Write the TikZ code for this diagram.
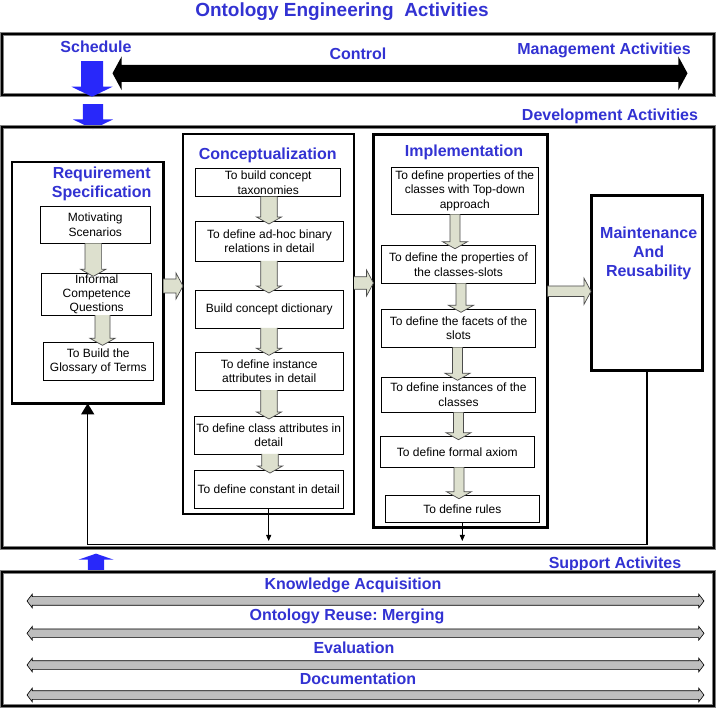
\documentclass[tikz,border=0pt]{standalone}
\usepackage{fontspec}
\setmainfont{Liberation Sans}
\usetikzlibrary{shapes.arrows,arrows.meta,calc}
\definecolor{headblue}{RGB}{50,50,210}
\definecolor{schedblue}{RGB}{40,40,250}
\definecolor{flowgray}{RGB}{221,224,206}
\definecolor{bargray}{RGB}{190,190,190}
\frenchspacing

% fat arrow from the bottom of #1 into the top of #2, at x=#3, shaft half width #4
\newcommand\downflow[4]{%
  \draw[flow] let \p1=(#1.south), \p2=(#2.north), \p3=(#3,0) in
    (\x3-#4pt,\y1) -- (\x3-#4pt,\y2+4pt) -- (\x3-12.5pt,\y2+4pt)
    -- (\x3,\y2-3pt) -- (\x3+12.5pt,\y2+4pt) -- (\x3+#4pt,\y2+4pt)
    -- (\x3+#4pt,\y1);}
% fat arrow from the right side of #1 to the left side of #2, at y=#3
\newcommand\rightflow[4]{%
  \draw[flow] let \p1=(#1.east), \p2=(#2.west), \p3=(0,#3) in
    (\x1,\y3+#4pt) -- (\x2-7pt,\y3+#4pt) -- (\x2-7pt,\y3+13pt)
    -- (\x2,\y3) -- (\x2-7pt,\y3-13pt) -- (\x2-7pt,\y3-#4pt)
    -- (\x1,\y3-#4pt);}

\begin{document}
\begin{tikzpicture}[x=1pt, y=-1pt,
    every node/.style={font=\fontsize{12}{14.5}\selectfont, align=center,
      inner sep=0pt, outer sep=0pt},
    heading/.style={text=headblue, font=\fontsize{16}{18.5}\selectfont\bfseries},
    panel/.style={draw=gray, line width=0.8pt, double=black, double distance=2.4pt},
    stage/.style={draw, line width=2.5pt},
    task/.style={draw, line width=0.8pt, fill=white},
    flow/.style={draw=black!70, fill=flowgray, line width=0.7pt},
    bar/.style={double arrow, draw, fill=bargray, line width=0.6pt,
      minimum height=677pt, inner ysep=4pt, double arrow head extend=2.5pt,
      double arrow tip angle=105},
    sched/.style={single arrow, fill=schedblue},
    link/.style={line width=0.8pt, -{Triangle[length=6pt,width=5pt]}},
  ]
  \useasboundingbox (0,0) rectangle (721,708);
  \node[heading, font=\fontsize{19}{22}\selectfont\bfseries] (title) at (342,11.7)
    {Ontology Engineering\ \ Activities};

  \node[panel, minimum width=712pt, minimum height=61pt] (mgmt) at (358,64.5) {};
  \node[heading] (schedule) at (96,46.7) {Schedule};
  \node[heading] (control) at (358,53.3) {Control};
  \node[heading] (mgmt-title) at (604,50) {Management Activities};
  \node[double arrow, fill=black, minimum height=575pt, inner ysep=8.3pt,
    double arrow head extend=8.3pt, double arrow tip angle=123] (control-arrow)
    at (400,73.3) {};
  \node[sched, minimum height=35.7pt, inner ysep=10.8pt,
    single arrow head extend=9.5pt, single arrow tip angle=128, rotate=-90]
    (sched-arrow) at (92,76.2) {};
  \node[sched, minimum height=25pt, inner ysep=10pt,
    single arrow head extend=10pt, single arrow tip angle=128, rotate=-90]
    (dev-arrow) at (93,114.2) {};

  \node[heading] (dev-title) at (610,116.7) {Development Activities};
  \node[panel, minimum width=712pt, minimum height=421pt] (dev) at (358,337.5) {};

  \node[stage, minimum width=151.3pt, minimum height=241.3pt] (req) at (87.7,282.7) {};
  \node[stage, minimum width=171pt, minimum height=380pt] (concept) at (268.5,324) {};
  \node[stage, minimum width=174pt, minimum height=392.6pt] (impl) at (460.5,331) {};
  \node[stage, line width=3pt, minimum width=111.7pt, minimum height=174.7pt] (maint)
    at (646.9,282.7) {};
  \node[heading, font=\fontsize{16}{18.3}\selectfont\bfseries] (req-title) at (101.7,184)
    {Requirement\\Specification};
  \node[heading] (concept-title) at (267.7,155.7) {Conceptualization};
  \node[heading] (impl-title) at (464,152.7) {Implementation};
  \node[heading, font=\fontsize{16}{19}\selectfont\bfseries] (maint-title) at (648.7,253.3)
    {Maintenance\\And\\Reusability};

  \node[task, minimum width=109.3pt, minimum height=37.3pt] (r1) at (95.3,224.7)
    {Motivating\\Scenarios};
  \node[task, font=\fontsize{12}{14}\selectfont, minimum width=110pt, minimum height=41.7pt]
    (r2) at (96.7,294.2) {Informal\\Competence\\Questions};
  \node[task, minimum width=110pt, minimum height=37.7pt] (r3) at (98.3,361.2)
    {To Build the\\Glossary of Terms};

  \node[task, minimum width=145pt, minimum height=28.4pt] (c1) at (268.2,182.5)
    {To build concept\\taxonomies};
  \node[task, minimum width=147.6pt, minimum height=40pt] (c2) at (269.5,241)
    {To define ad-hoc binary\\relations in detail};
  \node[task, minimum width=147.3pt, minimum height=38pt] (c3) at (269.3,309)
    {Build concept dictionary};
  \node[task, minimum width=148.3pt, minimum height=37.7pt] (c4) at (269.2,371.2)
    {To define instance\\attributes in detail};
  \node[task, minimum width=148.7pt, minimum height=38pt] (c5) at (268.7,435)
    {To define class attributes in\\detail};
  \node[task, minimum width=148.7pt, minimum height=38.3pt] (c6) at (268.7,489.2)
    {To define constant in detail};

  \node[task, minimum width=147pt, minimum height=47pt] (i1) at (464.8,190.8)
    {To define properties of the\\classes with Top-down\\approach};
  \node[task, minimum width=154.4pt, minimum height=37.6pt] (i2) at (458.5,264.5)
    {To define the properties of\\the classes-slots};
  \node[task, minimum width=154.4pt, minimum height=38pt] (i3) at (458.5,328.3)
    {To define the facets of the\\slots};
  \node[task, minimum width=154.4pt, minimum height=35pt] (i4) at (458.5,394.8)
    {To define instances of the\\classes};
  \node[task, minimum width=154pt, minimum height=30.6pt] (i5) at (457.3,452)
    {To define formal axiom};
  \node[task, minimum width=154pt, minimum height=26.6pt] (i6) at (462.3,509)
    {To define rules};

  \downflow{r1}{r2}{93.3}{8.3}
  \downflow{r2}{r3}{102.5}{7.5}
  \downflow{c1}{c2}{269}{8.3}
  \downflow{c2}{c3}{269}{8.3}
  \downflow{c3}{c4}{269}{8.3}
  \downflow{c4}{c5}{269}{8.3}
  \downflow{c5}{c6}{270}{8.3}
  \downflow{i1}{i2}{455}{5}
  \downflow{i2}{i3}{461}{5}
  \downflow{i3}{i4}{457.5}{5}
  \downflow{i4}{i5}{458.5}{5}
  \downflow{i5}{i6}{459}{5}
  \rightflow{req}{concept}{286}{7}
  \rightflow{concept}{impl}{283}{6.3}
  \rightflow{impl}{maint}{291.3}{5.3}

  \coordinate (drop) at (0,541);
  \coordinate (loop) at (0,544.3);
  \draw[link] (c6.south) -- (c6.south |- drop);
  \draw[link] (i6.south) -- (i6.south |- drop);
  \draw[line width=1.2pt, -{Triangle[length=11pt,width=13pt]}]
    (maint.south) -- (maint.south |- loop) -| (req.south);

  \node[sched, minimum height=18.3pt, inner ysep=8pt,
    single arrow head extend=9.3pt, single arrow tip angle=142, rotate=90]
    (support-arrow) at (96,564.2) {};
  \node[heading] (support-title) at (615,564) {Support Activites};
  \node[panel, minimum width=712pt, minimum height=134pt] (support) at (358,639) {};
  \foreach \name/\txt/\tx/\ty/\by in {
      know/Knowledge Acquisition/353/585/601,
      reuse/Ontology Reuse: Merging/347/616/633.3,
      eval/Evaluation/354/647.7/665,
      doc/Documentation/358/678.3/695}
  {
    \node[heading] (\name) at (\tx,\ty) {\txt};
    \node[bar] (\name-bar) at (365.5,\by) {};
  }
\end{tikzpicture}
\end{document}
